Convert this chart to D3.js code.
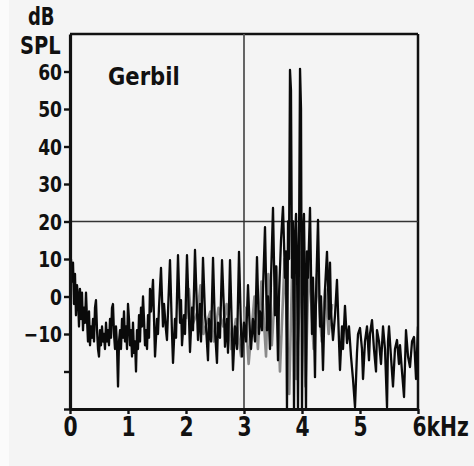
<!DOCTYPE html>
<html>
<head>
<meta charset="utf-8">
<script src="https://cdn.jsdelivr.net/npm/d3@7"></script>
<style>
  html, body { margin: 0; padding: 0; background: #f4f4f4; }
  svg { display: block; }
  text { font-family: "DejaVu Sans", "Liberation Sans", sans-serif; font-weight: bold; fill: #111; }
</style>
</head>
<body>
<svg id="chart" width="474" height="466"></svg>
<script>
// Sound spectrum of a gerbil call: [frequency in Hz, level in dB SPL]
const spectrum = [
  [0,8],[17,10],[34,4],[52,9],[69,-2],[86,6],[103,-5],[121,3],[138,0],[155,-8],[172,2],[190,-6],
  [207,1],[224,-9],[241,-3],[259,-7],[276,1],[293,-6],[310,-12],[328,-4],[345,-13],[362,-8],[379,-11],
  [397,-6],[414,-12],[431,-3],[448,-1],[466,-9],[483,-14],[500,-16],[517,-9],[534,-13],[552,-8],
  [569,-12],[586,-10],[603,-14],[621,-7],[638,-12],[655,-9],[672,-13],[690,-6],[707,-11],[724,-3],
  [741,-2],[759,-10],[776,-14],[793,-8],[810,-13],[828,-24],[845,-12],[862,-9],[879,-14],[897,-6],
  [914,-11],[931,-4],[948,-12],[966,-8],[983,-14],[1000,-2],[1017,-6],[1034,-13],[1052,-9],[1069,-16],
  [1086,-7],[1103,-15],[1121,-12],[1138,-20],[1155,-9],[1172,-14],[1190,-5],[1207,-12],[1224,-3],
  [1241,-8],[1259,0],[1276,-6],[1293,-13],[1310,-9],[1328,-14],[1345,-5],[1362,-11],[1379,2],
  [1397,-4],[1431,4.4],[1466,-16],[1500,-6],[1517,-10],[1534,-3],[1569,7.6],[1603,-8],[1621,-2],
  [1655,-9],[1672,-11.6],[1690,-4],[1724,9.7],[1759,-10],[1776,-17.7],[1810,-6],[1828,-11],[1862,11],
  [1897,-7],[1914,-1],[1931,-13],[1966,-5],[1983,-10],[2017,11],[2052,-6],[2069,-14.8],[2103,-3],
  [2121,-9],[2155,12.4],[2190,-4],[2207,-11.6],[2241,-2],[2259,-12],[2293,10.3],[2328,-5],[2345,-8],
  [2379,-17],[2397,-6],[2431,-12],[2466,10.3],[2500,-9],[2534,-17.7],[2552,-7],[2586,-11],[2621,9.7],
  [2655,-4],[2672,-13.4],[2707,-6],[2724,-15],[2759,9.7],[2793,-10],[2810,-19.6],[2845,-8],[2879,-14],
  [2914,11.9],[2948,-9],[2966,-16],[3000,-7],[3034,-12],[3069,3],[3103,-10],[3121,-14],[3155,-6],
  [3190,-12],[3224,10.5],[3259,-10],[3276,-4],[3310,-9],[3328,2],[3362,18.5],[3397,-9],[3414,0],
  [3448,-14],[3466,5],[3500,23.6],[3534,-5],[3552,8],[3586,-17],[3603,0],[3638,15],[3672,23.9],
  [3707,5],[3724,12],[3741,-30],[3759,20],[3776,10],[3793,60.4],[3810,55],[3828,5],[3845,20],
  [3862,-30],[3879,15],[3897,22],[3914,10],[3931,-30],[3948,12],[3966,60.7],[3983,50],[4000,-30],
  [4017,15],[4034,22],[4052,0],[4069,-30],[4086,12],[4103,5],[4138,23.6],[4172,-10],[4190,5],
  [4224,-21.5],[4241,0],[4276,20.4],[4310,-8],[4328,0],[4362,-19.6],[4397,2],[4431,11.9],[4466,-6],
  [4483,9],[4500,-4],[4534,-11.6],[4569,-5],[4603,4.4],[4638,-12],[4655,-19.6],[4690,-8],[4707,-14],
  [4741,-2.5],[4776,-12.4],[4810,-8],[4845,-16],[4879,-22],[4914,-29.5],[4948,-15],[4966,-10],
  [5000,-8.4],[5034,-14],[5052,-22],[5086,-12],[5121,-8],[5155,-17],[5172,-10],[5207,-6.3],[5241,-14],
  [5276,-20],[5293,-9],[5328,-12],[5362,-18],[5397,-8],[5431,-14],[5466,-29.5],[5483,-12],[5500,-8],
  [5534,-16],[5569,-24],[5603,-14],[5638,-11.6],[5672,-18],[5690,-13],[5724,-20],[5759,-26.8],
  [5793,-9],[5828,-16],[5862,-18.8],[5897,-12],[5931,-10.8],[5966,-22],[6000,-8]
];

// Fainter overlapping trace in the middle band
const fainterTrace = [
  [2000,-6],[2050,2],[2100,-8],[2200,-4],[2250,3],[2300,-10],[2420,-4],[2480,-12],[2560,-3],
  [2640,-8],[2700,-2],[2780,-14],[2860,-6],[2950,-16],[3020,-3],[3080,-18],[3180,0],[3240,-14],
  [3300,4],[3380,-16],[3420,6],[3480,-13],[3560,8],[3620,-20],[3700,10],[3780,-26],[3840,14],
  [3900,-22],[4000,12],[4060,-24],[4120,10],[4200,-14],[4260,6],[4340,-12],[4400,2],[4460,-10],[4520,-2]
];

const yTicks = [-30, -20, -10, 0, 10, 20, 30, 40, 50, 60];
const yTickLabels = ["", "", "\u221210", "0", "10", "20", "30", "40", "50", "60"];
const xTicks = [0, 1000, 2000, 3000, 4000, 5000, 6000];
const xTickLabels = ["0", "1", "2", "3", "4", "5", "6kHz"];
const gridFrequency = 3000;
const gridLevel = 20;
const yUnitLines = ["dB", "SPL"];
const speciesName = "Gerbil";

const svg = d3.select("#chart");
const plotLeft = 70, plotRight = 418, plotTop = 34, plotBottom = 409;

const x = d3.scaleLinear().domain([0, 6000]).range([plotLeft, plotRight]);
const y = d3.scaleLinear().domain([-30, 70]).range([plotBottom, plotTop]);

// faint left margin strip
svg.append("rect").attr("x", 0).attr("y", 0).attr("width", 9).attr("height", 466).attr("fill", "#fbfbfb");

svg.append("defs").append("clipPath").attr("id", "plot")
  .append("rect").attr("x", plotLeft).attr("y", plotTop)
  .attr("width", plotRight - plotLeft).attr("height", plotBottom - plotTop);

// frame: top and right
svg.append("line").attr("x1", plotLeft).attr("x2", plotRight).attr("y1", plotTop).attr("y2", plotTop)
  .attr("stroke", "#111").attr("stroke-width", 2.5);
svg.append("line").attr("x1", plotRight).attr("x2", plotRight).attr("y1", plotTop).attr("y2", plotBottom)
  .attr("stroke", "#111").attr("stroke-width", 2.5);

// reference lines
svg.append("line").attr("x1", x(gridFrequency)).attr("x2", x(gridFrequency))
  .attr("y1", plotTop).attr("y2", plotBottom)
  .attr("stroke", "#555").attr("stroke-width", 1.8);
svg.append("line").attr("x1", plotLeft).attr("x2", plotRight)
  .attr("y1", y(gridLevel)).attr("y2", y(gridLevel))
  .attr("stroke", "#333").attr("stroke-width", 1.5);

const line = d3.line().x(d => x(d[0])).y(d => y(d[1]));
const traces = svg.append("g").attr("clip-path", "url(#plot)");
traces.append("path").datum(fainterTrace).attr("d", line)
  .attr("fill", "none").attr("stroke", "#8a8a8a").attr("stroke-width", 2.6).attr("stroke-linejoin", "round");
traces.append("path").datum(spectrum).attr("d", line)
  .attr("fill", "none").attr("stroke", "#0a0a0a").attr("stroke-width", 2.3).attr("stroke-linejoin", "round");

// axes
const squeeze = 0.78;
const yAxis = d3.axisLeft(y).tickValues(yTicks)
  .tickFormat((d, i) => yTickLabels[i]).tickSize(6).tickSizeOuter(0).tickPadding(2);
const gy = svg.append("g").attr("transform", `translate(${plotLeft},0)`).call(yAxis);
gy.select(".domain").attr("stroke", "#111").attr("stroke-width", 3.2);
gy.selectAll(".tick line").attr("stroke", "#111").attr("stroke-width", 2.4);
gy.selectAll(".tick text")
  .attr("font-size", 22).attr("font-family", null).attr("fill", "#111")
  .attr("x", -8 / squeeze).attr("dy", "0.36em")
  .attr("transform", `scale(${squeeze},1)`);

const xAxis = d3.axisBottom(x).tickValues(xTicks)
  .tickFormat((d, i) => xTickLabels[i]).tickSize(5).tickSizeOuter(0).tickPadding(4);
const gx = svg.append("g").attr("transform", `translate(0,${plotBottom})`).call(xAxis);
gx.select(".domain").attr("stroke", "#111").attr("stroke-width", 3.2);
gx.selectAll(".tick line").attr("stroke", "#111").attr("stroke-width", 2.4);
gx.selectAll(".tick text")
  .attr("font-size", 26).attr("font-family", null).attr("fill", "#111")
  .attr("transform", `scale(${squeeze},1)`)
  .each(function (d) {
    if (d === 6000) d3.select(this).attr("text-anchor", "start").attr("x", -6 / squeeze);
  });

// unit and species labels
svg.append("text").attr("transform", "translate(28,25) scale(0.72,1)").attr("font-size", 25).text(yUnitLines[0]);
svg.append("text").attr("transform", "translate(20,54) scale(0.78,1)").attr("font-size", 25).text(yUnitLines[1]);
svg.append("text").attr("transform", "translate(108,85) scale(0.88,1)").attr("font-size", 24).text(speciesName);
</script>
</body>
</html>
